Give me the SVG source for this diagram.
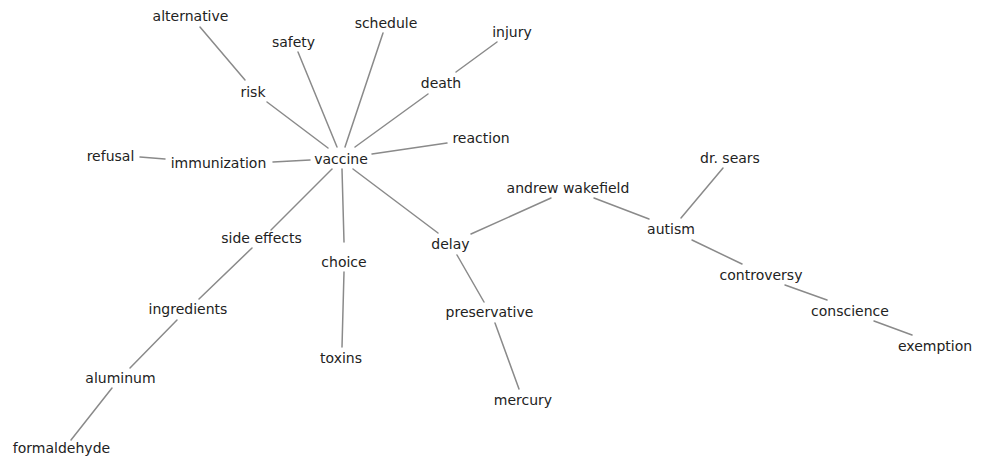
<svg xmlns="http://www.w3.org/2000/svg" width="983" height="462" viewBox="0 0 983 462">
<style>
.e line{stroke:#8a8a8a;stroke-width:1.5;stroke-linecap:round}
.n text{font-family:"DejaVu Sans","Liberation Sans",sans-serif;font-size:14px;fill:#222;text-anchor:middle}
</style>
<rect width="983" height="462" fill="#fff"/>
<g id="connectors" class="e">
<line x1="200" y1="27" x2="245" y2="80"/>
<line x1="298" y1="52" x2="337" y2="147"/>
<line x1="267" y1="102" x2="328" y2="148"/>
<line x1="140" y1="157" x2="165" y2="159"/>
<line x1="273" y1="162" x2="310" y2="160"/>
<line x1="383" y1="33" x2="345" y2="147"/>
<line x1="428" y1="94" x2="355" y2="147"/>
<line x1="497" y1="42" x2="456" y2="72"/>
<line x1="447" y1="143" x2="372" y2="154"/>
<line x1="332" y1="169" x2="271" y2="230"/>
<line x1="252" y1="248" x2="199" y2="299"/>
<line x1="177" y1="320" x2="130" y2="368"/>
<line x1="112" y1="388" x2="71" y2="440"/>
<line x1="342" y1="169" x2="344" y2="242"/>
<line x1="344" y1="272" x2="342" y2="347"/>
<line x1="353" y1="169" x2="438" y2="233"/>
<line x1="471" y1="234" x2="551" y2="198"/>
<line x1="457" y1="255" x2="484" y2="302"/>
<line x1="495" y1="323" x2="519" y2="389"/>
<line x1="594" y1="198" x2="649" y2="219"/>
<line x1="723" y1="168" x2="681" y2="218"/>
<line x1="692" y1="240" x2="742" y2="264"/>
<line x1="785" y1="285" x2="827" y2="300"/>
<line x1="874" y1="321" x2="912" y2="335"/>
</g>
<g id="alternative" class="n"><text x="190.5" y="21">alternative</text></g>
<g id="safety" class="n"><text x="293.5" y="47">safety</text></g>
<g id="schedule" class="n"><text x="386" y="28">schedule</text></g>
<g id="injury" class="n"><text x="512" y="37">injury</text></g>
<g id="risk" class="n"><text x="253" y="97">risk</text></g>
<g id="death" class="n"><text x="441" y="88">death</text></g>
<g id="reaction" class="n"><text x="481" y="143">reaction</text></g>
<g id="refusal" class="n"><text x="110.5" y="161">refusal</text></g>
<g id="immunization" class="n"><text x="218.5" y="168">immunization</text></g>
<g id="vaccine" class="n"><text x="341" y="164">vaccine</text></g>
<g id="andrew-wakefield" class="n"><text x="568" y="193">andrew wakefield</text></g>
<g id="dr-sears" class="n"><text x="730" y="163">dr. sears</text></g>
<g id="autism" class="n"><text x="671" y="234">autism</text></g>
<g id="controversy" class="n"><text x="761" y="280">controversy</text></g>
<g id="conscience" class="n"><text x="850" y="316">conscience</text></g>
<g id="exemption" class="n"><text x="935" y="351">exemption</text></g>
<g id="side-effects" class="n"><text x="261.5" y="243">side effects</text></g>
<g id="ingredients" class="n"><text x="188" y="314">ingredients</text></g>
<g id="aluminum" class="n"><text x="120.5" y="383">aluminum</text></g>
<g id="formaldehyde" class="n"><text x="61.5" y="453">formaldehyde</text></g>
<g id="delay" class="n"><text x="450.5" y="249">delay</text></g>
<g id="choice" class="n"><text x="344" y="267">choice</text></g>
<g id="toxins" class="n"><text x="341" y="363">toxins</text></g>
<g id="preservative" class="n"><text x="489.5" y="317">preservative</text></g>
<g id="mercury" class="n"><text x="523" y="405">mercury</text></g>
</svg>
